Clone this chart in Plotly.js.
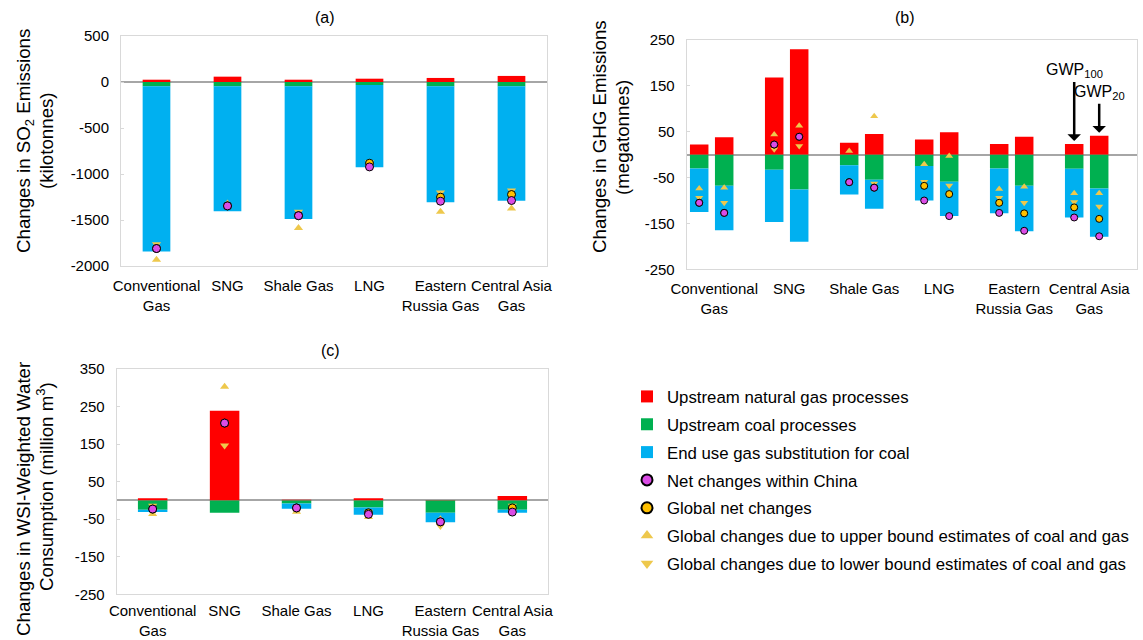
<!DOCTYPE html>
<html><head><meta charset="utf-8">
<script src="https://cdn.plot.ly/plotly-3.0.1.min.js"></script>
<style>html,body{margin:0;padding:0;background:#fff}#chart{width:1143px;height:640px}</style>
</head><body><div id="chart"></div>
<script>
// ---------- DATA ----------
const categories = ['Conventional<br>Gas', 'SNG', 'Shale Gas', 'LNG', 'Eastern<br>Russia Gas', 'Central Asia<br>Gas'];

// (a) SO2 (kilotonnes)
const so2Gas    = [25, 58, 25, 36, 44, 66];
const so2Coal   = [-47, -47, -47, -33, -47, -47];
const so2End    = [-1796, -1358, -1442, -894, -1260, -1245];
const so2China  = [-1810, -1347, -1453, -923, -1296, -1288];
const so2Global = [-1810, -1347, -1453, -883, -1252, -1223];
const so2Upper  = [-1933, -1320, -1588, -900, -1409, -1376];
const so2Lower  = [-1763, -1350, -1409, -870, -1201, -1179];

// (b) GHG (megatonnes), GWP100 and GWP20
const ghg100Gas    = [22, 168, 26, 33, 23, 23];
const ghg100Coal   = [-30, -33, -23, -25, -30, -31];
const ghg100End    = [-95, -114, -64, -75, -98, -106];
const ghg100China  = [-105, 22, -60, -100, -127, -137];
const ghg100Global = [-105, 22, -60, -68, -105, -115];
const ghg100Upper  = [-74, 44, 8, -21, -75, -84];
const ghg100Lower  = [-94, 12, -58, -59, -94, -103];

const ghg20Gas    = [38, 230, 45, 49, 39, 41];
const ghg20Coal   = [-68, -76, -55, -59, -68, -74];
const ghg20End    = [-97, -114, -63, -75, -99, -105];
const ghg20China  = [-127, 39, -72, -134, -166, -178];
const ghg20Global = [-127, 39, -72, -86, -128, -140];
const ghg20Upper  = [-72, 63, 84, -3, -70, -84];
const ghg20Lower  = [-105, 19, -63, -67, -105, -113];

// (c) WSI-weighted water (million m3)
const waterGas    = [6, 239, 2, 6, 1, 12];
const waterCoal   = [-25, -33, -8, -19, -33, -25];
const waterEnd    = [-6, 0, -14, -19, -25, -8];
const waterChina  = [-23, 206, -20, -37, -57, -31];
const waterGlobal = [-23, 206, -20, -33, -57, -20];
const waterUpper  = [-36, 303, -30, -44, -50, -24];
const waterLower  = [-14, 146, -18, -30, -68, -14];

// tick labels
const so2Ticks   = [500, 0, -500, -1000, -1500, -2000];
const ghgTicks   = [250, 150, 50, -50, -150, -250];
const waterTicks = [350, 250, 150, 50, -50, -150, -250];

const legendNames = ['Upstream natural gas processes', 'Upstream coal processes', 'End use gas substitution for coal',
  'Net changes within China', 'Global net changes',
  'Global changes due to upper bound estimates of coal and gas',
  'Global changes due to lower bound estimates of coal and gas'];

// ---------- STYLE ----------
const RED = '#FF0000', GREEN = '#00B050', BLUE = '#00B0F0';
const MAGENTA = '#DB4CE6', ORANGE = '#FFC000', TRI = '#EEC84C';
const FONT = 'Liberation Sans, Arial, Helvetica, sans-serif';
const W = 1143, H = 640;
const px = v => v / W, py = v => 1 - v / H;

function panel(xa, ya, xs, d, bw, ms) {
  const bar = (y, c, g) => ({type: 'bar', x: xs, y: y, xaxis: xa, yaxis: ya, width: bw,
    marker: {color: c, line: {width: 0}}, showlegend: false, legendgroup: g, hoverinfo: 'y'});
  const sc = (y, sym, c, lw, g) => ({type: 'scatter', mode: 'markers', x: xs, y: y, xaxis: xa, yaxis: ya,
    marker: {symbol: sym, size: ms, color: c, line: {width: lw, color: '#000'}}, showlegend: false, legendgroup: g, hoverinfo: 'y'});
  return [bar(d[0], RED, 'g1'), bar(d[1], GREEN, 'g2'), bar(d[2], BLUE, 'g3'),
    sc(d[5], 'triangle-up', TRI, 0, 'g6'), sc(d[6], 'triangle-down', TRI, 0, 'g7'),
    sc(d[4], 'circle', ORANGE, 1, 'g5'), sc(d[3], 'circle', MAGENTA, 1, 'g4')];
}

const idx = categories.map((_, i) => i);
const xb100 = idx.map(i => 3 * i);
const xb20 = idx.map(i => 3 * i + 1);

let traces = [];
traces = traces.concat(panel('x', 'y', categories, [so2Gas, so2Coal, so2End, so2China, so2Global, so2Upper, so2Lower], 0.39, 8));
traces = traces.concat(panel('x2', 'y2', xb100, [ghg100Gas, ghg100Coal, ghg100End, ghg100China, ghg100Global, ghg100Upper, ghg100Lower], 0.74, 7));
traces = traces.concat(panel('x2', 'y2', xb20, [ghg20Gas, ghg20Coal, ghg20End, ghg20China, ghg20Global, ghg20Upper, ghg20Lower], 0.74, 7));
traces = traces.concat(panel('x3', 'y3', categories, [waterGas, waterCoal, waterEnd, waterChina, waterGlobal, waterUpper, waterLower], 0.41, 8));

// legend entries
traces[0].showlegend = true; traces[0].name = legendNames[0];
traces[1].showlegend = true; traces[1].name = legendNames[1];
traces[2].showlegend = true; traces[2].name = legendNames[2];
const legSym = [['circle', MAGENTA, 2, 'g4'], ['circle', ORANGE, 2, 'g5'], ['triangle-up', TRI, 0, 'g6'], ['triangle-down', TRI, 0, 'g7']];
legSym.forEach((s, k) => traces.push({type: 'scatter', mode: 'markers', x: [null], y: [null], xaxis: 'x', yaxis: 'y',
  name: legendNames[3 + k], legendgroup: s[3], showlegend: true,
  marker: {symbol: s[0], size: 11, color: s[1], line: {width: s[2], color: '#000'}}}));

const tickFont = {family: FONT, size: 15, color: '#000'};
const frame = {showline: true, mirror: true, linecolor: '#D9D9D9', linewidth: 1, showgrid: false, automargin: false, fixedrange: true};
function yax(dom, anchor, range, ticks) {
  return Object.assign({}, frame, {domain: dom, anchor: anchor, range: range, tickvals: ticks, ticktext: ticks.map(String),
    ticks: 'inside', ticklen: 3, tickcolor: '#D9D9D9', tickfont: tickFont, ticklabelstandoff: 8,
    zeroline: true, zerolinecolor: '#A6A6A6', zerolinewidth: 2});
}
function xax(dom, anchor, extra) {
  return Object.assign({}, frame, {domain: dom, anchor: anchor, ticks: '', tickangle: 0, tickfont: tickFont, zeroline: false, ticklabelstandoff: 6}, extra);
}

function vtitle(text, x, y) {
  return {text: text, textangle: -90, x: px(x), y: py(y), xref: 'paper', yref: 'paper', xanchor: 'center', yanchor: 'middle',
    showarrow: false, font: {size: 18.7}};
}

const layout = {
  width: W, height: H, autosize: false,
  margin: {l: 0, r: 0, t: 0, b: 0},
  paper_bgcolor: '#fff', plot_bgcolor: '#fff',
  font: {family: FONT, color: '#000'},
  barmode: 'relative',
  showlegend: true,
  legend: {x: px(627), xanchor: 'left', y: py(379), yanchor: 'top', traceorder: 'grouped', tracegroupgap: 3,
    font: {family: FONT, size: 16.8, color: '#000'}, bgcolor: 'rgba(0,0,0,0)', borderwidth: 0},
  xaxis: xax([px(121), px(547)], 'y', {range: [-0.5, 5.5], type: 'category'}),
  yaxis: yax([py(266), py(36)], 'x', [-2000, 500], so2Ticks),
  xaxis2: xax([px(686.7), px(1136.7)], 'y2', {range: [-0.5, 17.5], tickvals: idx.map(i => 3 * i + 0.6), ticktext: categories}),
  yaxis2: yax([py(269.3), py(40)], 'x2', [-250, 250], ghgTicks),
  xaxis3: xax([px(116.7), px(548.3)], 'y3', {range: [-0.5, 5.5], type: 'category', ticklabelstandoff: 3}),
  yaxis3: yax([py(594.3), py(369)], 'x3', [-250, 350], waterTicks),
  annotations: [
    {text: '(a)', x: px(325), y: py(18), xref: 'paper', yref: 'paper', xanchor: 'center', yanchor: 'middle', showarrow: false, font: {size: 16}},
    {text: '(b)', x: px(905), y: py(18), xref: 'paper', yref: 'paper', xanchor: 'center', yanchor: 'middle', showarrow: false, font: {size: 16}},
    {text: '(c)', x: px(330), y: py(350), xref: 'paper', yref: 'paper', xanchor: 'center', yanchor: 'middle', showarrow: false, font: {size: 16}},
    vtitle('Changes in SO<sub>2</sub> Emissions', 25, 141),
    vtitle('(kilotonnes)', 46, 141),
    vtitle('Changes in GHG Emissions', 599, 137),
    vtitle('(megatonnes)', 622, 137),
    vtitle('Changes in WSI-Weighted Water', 23, 499),
    vtitle('Consumption (million m<sup>3</sup>)', 45, 487),
    {text: 'GWP<sub>100</sub>', x: xb100[5], y: ghg100Gas[5] + 7, xref: 'x2', yref: 'y2', ax: 0, ay: -70,
      showarrow: true, arrowhead: 1, arrowsize: 0.9, arrowwidth: 2.5, arrowcolor: '#000', font: {size: 16}},
    {text: 'GWP<sub>20</sub>', x: xb20[5], y: ghg20Gas[5] + 7, xref: 'x2', yref: 'y2', ax: 0, ay: -40,
      showarrow: true, arrowhead: 1, arrowsize: 0.9, arrowwidth: 2.5, arrowcolor: '#000', font: {size: 16}}
  ]
};

Plotly.newPlot('chart', traces, layout, {displayModeBar: false, staticPlot: true});
</script>
</body></html>
